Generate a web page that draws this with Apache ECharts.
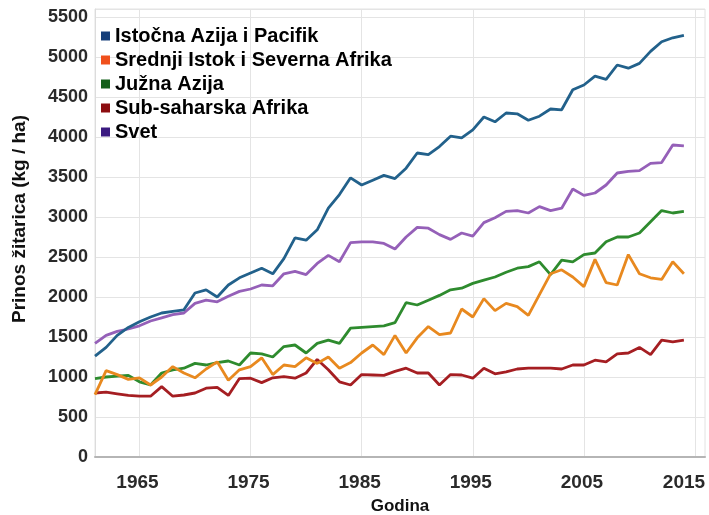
<!DOCTYPE html>
<html>
<head>
<meta charset="utf-8">
<script src="https://cdn.jsdelivr.net/npm/echarts@6/dist/echarts.min.js"></script>
<style>
html,body{margin:0;padding:0;background:#fff;}
#chart{width:709px;height:515px;}
</style>
</head>
<body>
<div id="chart"></div>
<script>
const years = [];
for (let y = 1961; y <= 2014; y++) years.push(y);

const seriesNames = ['Istočna Azija i Pacifik', 'Srednji Istok i Severna Afrika', 'Južna Azija', 'Sub-saharska Afrika', 'Svet'];

const eastAsiaPacific = [1260,1370,1520,1620,1690,1750,1800,1820,1840,2050,2090,2000,2150,2240,2300,2360,2290,2480,2740,2710,2840,3110,3280,3490,3400,3460,3520,3480,3610,3800,3780,3880,4010,3990,4090,4250,4190,4300,4290,4210,4260,4350,4340,4590,4650,4760,4720,4900,4860,4920,5070,5190,5240,5270];
const middleEastNorthAfrica = [780,1080,1030,970,990,900,1000,1130,1050,990,1100,1190,960,1090,1130,1240,1030,1150,1130,1240,1170,1250,1110,1180,1300,1400,1280,1520,1300,1490,1630,1530,1550,1850,1750,1980,1830,1920,1880,1770,2030,2290,2340,2250,2130,2470,2180,2150,2530,2290,2240,2220,2440,2290];
const southAsia = [980,1000,1010,1020,940,900,1050,1090,1110,1170,1150,1180,1200,1150,1300,1290,1250,1380,1400,1300,1420,1460,1420,1610,1620,1630,1640,1680,1930,1900,1960,2020,2090,2110,2170,2210,2250,2310,2360,2380,2440,2280,2460,2440,2530,2550,2690,2750,2750,2800,2940,3080,3050,3070];
const subSaharanAfrica = [800,810,790,770,760,760,880,760,775,800,860,870,770,980,985,930,990,1005,985,1050,1220,1090,940,900,1030,1025,1020,1070,1110,1050,1050,900,1030,1025,985,1110,1040,1065,1100,1110,1110,1110,1100,1150,1150,1210,1190,1290,1300,1370,1280,1460,1440,1460];
const world = [1420,1520,1570,1600,1640,1700,1740,1780,1800,1920,1960,1940,2010,2070,2100,2150,2140,2290,2320,2280,2420,2520,2440,2680,2690,2690,2670,2600,2750,2870,2860,2780,2720,2800,2760,2930,2990,3070,3080,3050,3130,3080,3110,3350,3270,3300,3400,3550,3570,3580,3670,3680,3900,3890];

const xTickLabels = [1965, 1975, 1985, 1995, 2005, 2015];
const yTickValues = [0,500,1000,1500,2000,2500,3000,3500,4000,4500,5000,5500];

const lineColors = ['#22618b', '#e8891f', '#2e8b2e', '#a51e22', '#9560b8'];
const legendColors = ['#163f7a', '#f0501c', '#14601a', '#8c0d10', '#3a1a80'];
const allValues = [eastAsiaPacific, middleEastNorthAfrica, southAsia, subSaharanAfrica, world];

const chart = echarts.init(document.getElementById('chart'), null, {renderer: 'canvas'});
const fontFam = '"Liberation Sans", Arial, sans-serif';
const labelStyle = {color: '#2a2a2a', fontFamily: fontFam, fontWeight: 'bold', fontSize: 19};

const series = seriesNames.map((name, i) => ({
  name: name,
  type: 'line',
  data: years.map((y, j) => [y, allValues[i][j]]),
  showSymbol: false,
  symbol: 'none',
  lineStyle: {color: lineColors[i], width: 2.8},
  itemStyle: {color: legendColors[i]},
  z: 10 - i,
  animation: false
}));

chart.setOption({
  animation: false,
  backgroundColor: '#fff',
  grid: {left: 95, right: 4, top: 9, bottom: 58, outerBoundsMode: 'none', containLabel: false, show: true, borderColor: '#e2e2e2', borderWidth: 1},
  legend: {
    orient: 'vertical',
    left: 101,
    top: 26,
    padding: 0,
    itemGap: 4,
    itemWidth: 9,
    itemHeight: 9,
    itemTextGap: 7,
    icon: 'rect',
    data: seriesNames,
    textStyle: {color: '#000', fontFamily: fontFam, fontWeight: 'bold', fontSize: 20, lineHeight: 19}
  },
  xAxis: {
    type: 'value',
    min: 1961,
    max: 2015.9,
    name: 'Godina',
    nameLocation: 'middle',
    nameGap: 41,
    nameTextStyle: {color: '#111', fontFamily: fontFam, fontWeight: 'bold', fontSize: 17},
    axisLine: {show: true, lineStyle: {color: '#b5b5b5', width: 2}},
    axisTick: {show: false, customValues: xTickLabels},
    axisLabel: Object.assign({
      customValues: xTickLabels, margin: 16,
      formatter: v => v === 2015 ? '{last|' + v + '}' : '{n|' + v + '}',
      rich: {
        n: Object.assign({padding: [0, 4, 0, 0]}, labelStyle),
        last: Object.assign({padding: [0, 22, 0, 0]}, labelStyle)
      }
    }, labelStyle),
    splitLine: {show: true, lineStyle: {color: '#e4e4e4', width: 1}}
  },
  yAxis: {
    type: 'value',
    min: 0,
    max: 5600,
    interval: 500,
    name: 'Prinos žitarica (kg / ha)',
    nameLocation: 'middle',
    nameGap: 66,
    nameTextStyle: {color: '#111', fontFamily: fontFam, fontWeight: 'bold', fontSize: 19, padding: [0, 0, 0, 28]},
    axisLine: {show: true, lineStyle: {color: '#dcdcdc', width: 1}},
    axisTick: {show: false},
    axisLabel: {showMaxLabel: false, color: '#2a2a2a', fontFamily: fontFam, fontWeight: 'bold', fontSize: 18, margin: 7,
      formatter: v => yTickValues.indexOf(v) >= 0 ? String(v) : ''},
    splitLine: {show: true, lineStyle: {color: '#e4e4e4', width: 1}}
  },
  series: series
});
</script>
</body>
</html>
